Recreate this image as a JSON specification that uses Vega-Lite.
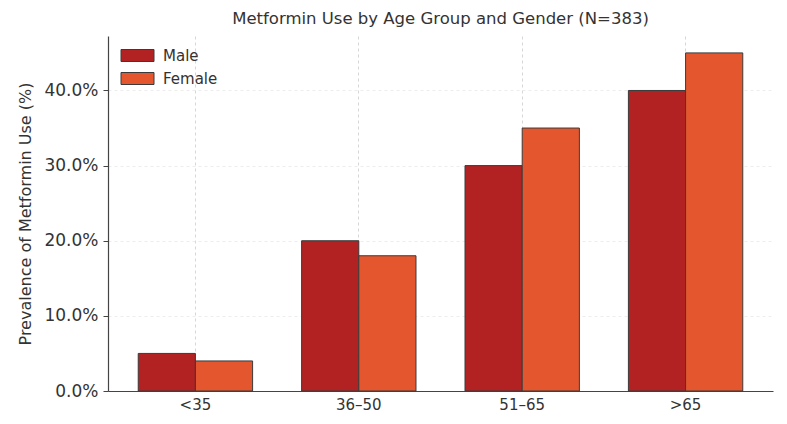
{
  "$schema": "https://vega.github.io/schema/vega-lite/v6.json",
  "autosize": "none",
  "width": 665,
  "height": 355,
  "padding": {"left": 108, "top": 36, "right": 14, "bottom": 33},
  "background": "white",
  "config": {
    "view": {"stroke": null},
    "font": "DejaVu Sans"
  },
  "title": {
    "text": "Metformin Use by Age Group and Gender (N=383)",
    "fontSize": 16.5,
    "fontWeight": "normal",
    "color": "#333333",
    "font": "DejaVu Sans",
    "anchor": "middle",
    "offset": 9
  },
  "data": {
    "values": [
      {"age": "<35", "gender": "Male", "pct": 5},
      {"age": "<35", "gender": "Female", "pct": 4},
      {"age": "36–50", "gender": "Male", "pct": 20},
      {"age": "36–50", "gender": "Female", "pct": 18},
      {"age": "51–65", "gender": "Male", "pct": 30},
      {"age": "51–65", "gender": "Female", "pct": 35},
      {"age": ">65", "gender": "Male", "pct": 40},
      {"age": ">65", "gender": "Female", "pct": 45}
    ]
  },
  "mark": {"type": "bar", "stroke": "#3a3a3a", "strokeWidth": 1},
  "encoding": {
    "x": {
      "field": "age",
      "type": "nominal",
      "sort": ["<35", "36–50", "51–65", ">65"],
      "scale": {"paddingInner": 0.3, "paddingOuter": 0.185},
      "axis": {
        "title": null,
        "labelAngle": 0,
        "labelFontSize": 15,
        "labelColor": "#333333",
        "labelPadding": 6,
        "ticks": false,
        "domainColor": "#444444",
        "domainWidth": 1.2,
        "grid": true,
        "bandPosition": 0.5,
        "gridColor": "#cccccc",
        "gridDash": [3, 3],
        "gridWidth": 0.8
      }
    },
    "xOffset": {
      "field": "gender",
      "type": "nominal",
      "sort": ["Male", "Female"],
      "scale": {"paddingInner": 0, "paddingOuter": 0}
    },
    "y": {
      "field": "pct",
      "type": "quantitative",
      "scale": {"domain": [0, 47.25], "nice": false},
      "axis": {
        "title": "Prevalence of Metformin Use (%)",
        "titleFontSize": 16,
        "titleFontWeight": "normal",
        "titleColor": "#333333",
        "titlePadding": 10,
        "values": [0, 10, 20, 30, 40],
        "labelExpr": "format(datum.value, '.1f') + '%'",
        "labelFontSize": 17,
        "labelColor": "#333333",
        "labelPadding": 5,
        "tickSize": 5,
        "tickColor": "#444444",
        "domainColor": "#444444",
        "domainWidth": 1.2,
        "grid": true,
        "gridColor": "#e8e8e8",
        "gridDash": [3, 3],
        "gridWidth": 0.8
      }
    },
    "color": {
      "field": "gender",
      "type": "nominal",
      "sort": ["Male", "Female"],
      "scale": {"domain": ["Male", "Female"], "range": ["#B22222", "#E4572E"]},
      "legend": {
        "title": null,
        "orient": "none",
        "legendX": 17,
        "legendY": 7,
        "labelFontSize": 15,
        "labelColor": "#333333",
        "symbolType": "M-1.375,-0.5H1.375V0.5H-1.375Z",
        "symbolSize": 576,
        "symbolStrokeColor": "#3a3a3a",
        "symbolStrokeWidth": 1,
        "symbolOpacity": 1,
        "rowPadding": 2,
        "labelOffset": 13
      }
    }
  }
}
